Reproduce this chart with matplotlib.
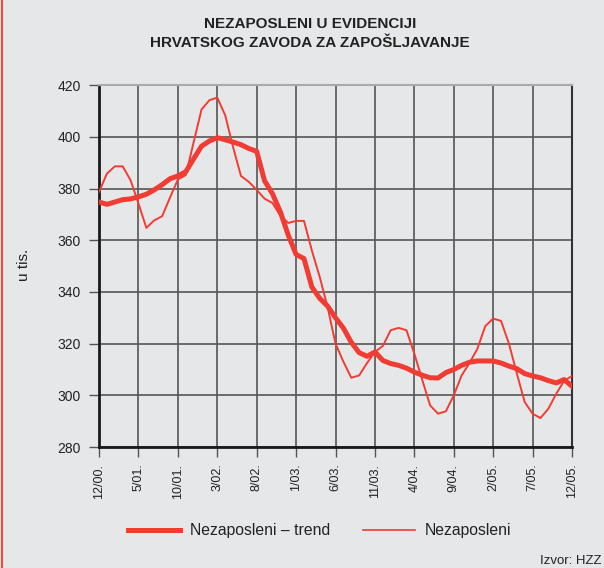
import numpy as np
import matplotlib.pyplot as plt
from matplotlib.lines import Line2D

plt.rcParams['font.family'] = ['Liberation Sans', 'DejaVu Sans']

# monthly data, 12/2000 - 12/2005 (thousands)
nezaposleni = [378.7, 385.8, 388.6, 388.6, 383.2, 374.2, 364.8, 367.7, 369.3, 376.5,
               383.5, 385.2, 397.9, 410.6, 414.2, 415.2, 408.4, 396.1, 384.9, 382.6,
               379.5, 376.1, 374.4, 369.5, 366.7, 367.5, 367.5, 356.0, 345.8, 334.0,
               320.0, 313.0, 306.8, 307.7, 312.5, 316.8, 319.1, 325.2, 326.1, 325.2,
               316.1, 306.0, 296.1, 292.9, 293.8, 300.0, 307.7, 312.5, 318.0, 326.8,
               329.7, 328.8, 320.0, 308.5, 297.4, 292.9, 291.2, 294.8, 300.6, 305.6,
               307.5]
trend = [374.8, 373.9, 374.8, 375.7, 376.0, 376.8, 377.8, 379.5, 381.5, 383.8,
         384.9, 386.5, 391.5, 396.4, 398.4, 399.7, 398.9, 398.0, 397.0, 395.5,
         394.4, 383.0, 378.0, 371.0, 362.0, 354.5, 352.9, 341.9, 337.5, 334.5,
         330.0, 326.0, 320.5, 316.5, 315.1, 316.8, 313.5, 312.3, 311.6, 310.5,
         309.0, 307.8, 306.8, 306.7, 308.8, 310.0, 311.6, 312.8, 313.3, 313.3,
         313.3, 312.5, 311.3, 310.3, 308.4, 307.5, 306.8, 305.7, 304.8, 306.1,
         303.5]
tick_labels = ['12/00.', '5/01.', '10/01.', '3/02.', '8/02.', '1/03.', '6/03.',
               '11/03.', '4/04.', '9/04.', '2/05.', '7/05.', '12/05.']

bg = '#e6e7e9'
red = '#f03c32'
W, H = 604, 568

fig = plt.figure(figsize=(6.04, 5.68), dpi=100, facecolor=bg)
ax = fig.add_axes([0.164, 0.213, 0.783, 0.637], facecolor=bg)

months = np.arange(len(trend))
ax.plot(months, trend, color=red, lw=3.6, solid_joinstyle='round', zorder=3)
ax.plot(months, nezaposleni, color=red, lw=1.4, zorder=4)

ax.set_xlim(0, 60)
ax.set_ylim(280, 420)
ax.set_xticks(np.arange(0, 61, 5))
ax.set_xticklabels(tick_labels, rotation=90, fontsize=9, color='#222222')
ax.set_yticks(np.arange(280, 421, 20))
ax.tick_params(axis='y', labelsize=10, labelcolor='#222222', length=7,
               width=1, color='#555555', pad=6)
ax.tick_params(axis='x', length=7, width=1, color='#555555', pad=5)
ax.grid(True, color='#555555', lw=1.2)
ax.set_axisbelow(True)

for side in ['left', 'bottom']:
    ax.spines[side].set_linewidth(2)
    ax.spines[side].set_color('#1a1a1a')
ax.spines['right'].set_color('#333333')
ax.spines['right'].set_linewidth(1.5)
ax.spines['top'].set_color('#aaaaaa')
ax.spines['top'].set_linewidth(1.5)

fig.text(24 / W, 1 - 265 / H, 'u tis.', rotation=90, fontsize=11,
         color='#222222', ha='center', va='center')

fig.text(310 / W, 1 - 17 / H, 'NEZAPOSLENI U EVIDENCIJI\nHRVATSKOG ZAVODA ZA ZAPOŠLJAVANJE',
         ha='center', va='top', fontsize=11, fontweight='bold', color='#222222',
         linespacing=1.45)

# legend drawn by hand
ly = 1 - 530 / H
fig.add_artist(Line2D([128 / W, 180 / W], [ly, ly], transform=fig.transFigure,
                      color=red, lw=3.6))
fig.text(190 / W, ly, 'Nezaposleni – trend', fontsize=11.3, color='#222222',
         ha='left', va='center')
fig.add_artist(Line2D([363 / W, 415 / W], [ly, ly], transform=fig.transFigure,
                      color=red, lw=1.2))
fig.text(425 / W, ly, 'Nezaposleni', fontsize=11.3, color='#222222',
         ha='left', va='center')

fig.text(601 / W, 1 - 561 / H, 'Izvor: HZZ', fontsize=9.5, color='#222222',
         ha='right', va='center')

# red frame line on the left edge
fig.add_artist(Line2D([0.004, 0.004], [0, 1], transform=fig.transFigure,
                      color='#f04a40', lw=1.5))

fig.savefig('out.png', dpi=100, facecolor=bg)
